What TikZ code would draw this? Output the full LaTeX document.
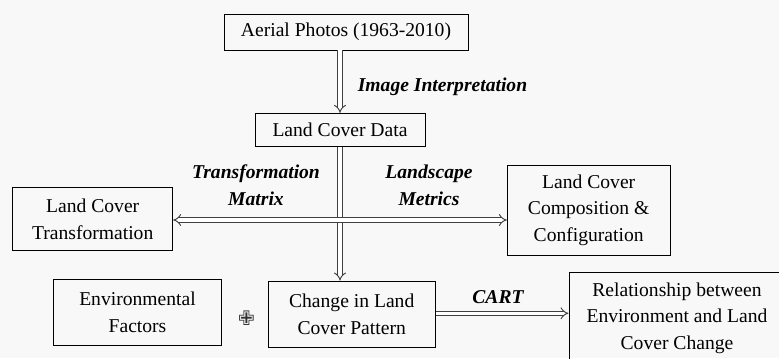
\documentclass[tikz,border=0pt]{standalone}
\usepackage{fontspec}
\setmainfont{Liberation Serif}
\newfontfamily\symfont{DejaVu Sans}
\usetikzlibrary{arrows.meta}

\definecolor{bgcol}{RGB}{248,248,248}

\newcommand{\mainsize}{\fontsize{14.7}{20}\selectfont}

\tikzset{
  box/.style={draw, line width=0.7pt, align=center, inner sep=0pt},
  lab/.style={font=\mainsize\bfseries\itshape, align=center, inner sep=0pt},
  dbl/.style={draw=black!75, double=white, double distance=2.4pt, line width=0.7pt},
}

\begin{document}
\begin{tikzpicture}[x=0.75pt, y=-0.75pt, font=\mainsize]

\fill[bgcol] (0,0) rectangle (779,358);
\useasboundingbox (0,0) rectangle (779,358);

% boxes
\node[box, minimum width=183pt, minimum height=27pt] (aerial) at (346,32) {Aerial Photos (1963-2010)};
\node[box, minimum width=127.5pt, minimum height=25pt] (lcd) at (340,130) {Land Cover Data};
\node[box, minimum width=120pt, minimum height=47.5pt] (ltrans) at (92.7,219) {Land Cover\\Transformation};
\node[box, minimum width=122pt, minimum height=67.5pt] (comp) at (588.7,210) {Land Cover\\Composition \&\\Configuration};
\node[box, minimum width=126pt, minimum height=49pt] (env) at (137.5,312.5) {Environmental\\Factors};
\node[box, minimum width=125pt, minimum height=49.5pt] (change) at (351.7,314) {Change in Land\\Cover Pattern};
\node[box, minimum width=162pt, minimum height=69pt] (rel) at (677,318) {Relationship between\\Environment and Land\\Cover Change};
\node[font=\symfont\fontsize{15}{15}\selectfont, inner sep=0pt, text=black!80] (plus) at (246.5,318) {✙};

% labels
\node[lab] (interp) at (442.5,86.7) {Image Interpretation};
\node[lab] (tmat) at (256,185) {Transformation\\Matrix};
\node[lab] (lmet) at (429,185) {Landscape\\Metrics};
\node[lab] (cart) at (498,297) {CART};

\coordinate (hub) at (340,220);

% arrows
\draw[dbl, -{Implies}] (aerial.south -| lcd.north) -- (lcd.north);
\draw[dbl, -{Implies}] (lcd.south) -- (lcd.south |- change.north);
\draw[dbl, {Implies}-{Implies}] (ltrans.east |- hub) -- (comp.west |- hub);
\draw[dbl, -{Implies}] (change.east |- 0,313.3) -- (rel.west |- 0,313.3);

\end{tikzpicture}
\end{document}
